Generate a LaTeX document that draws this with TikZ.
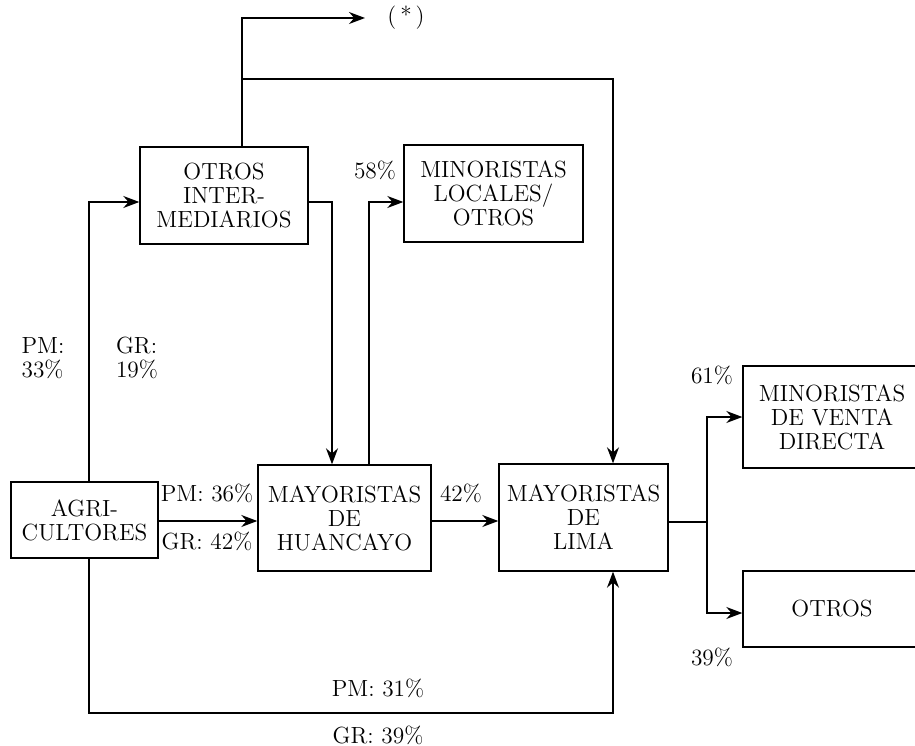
\documentclass[tikz,border=0pt]{standalone}
\usepackage{tikz}
\usetikzlibrary{arrows.meta}

\begin{document}
\begin{tikzpicture}[x = 0.02cm, y = -0.02cm,
  every node/.style = {font = \fontsize{13.3}{13.7}\selectfont},
  box/.style = {draw, line width = 0.8pt, align = center, inner sep = 0pt},
  arr/.style = {line width = 0.8pt, -{Stealth[length = 3.2mm, width = 2.4mm]}},
  flow/.style = {line width = 0.8pt}]
\useasboundingbox (0, 0) rectangle (915, 746);
\clip (0, 0) rectangle (915, 746);
% boxes
\node (agri) [box, minimum width = 2.94cm, minimum height = 1.52cm] at (84.5, 520) {AGRI-\\CULTORES};
\node (otros) [box, minimum width = 3.36cm, minimum height = 1.94cm] at (224, 195.5) {OTROS\\INTER-\\MEDIARIOS};
\node (minloc) [box, minimum width = 3.58cm, minimum height = 1.94cm] at (493.5, 193.5) {MINORISTAS\\LOCALES/\\OTROS};
\node (huan) [box, minimum width = 3.46cm, minimum height = 2.12cm] at (344.5, 518) {MAYORISTAS\\DE\\HUANCAYO};
\node (lima) [box, minimum width = 3.38cm, minimum height = 2.14cm] at (583.5, 517.5) {MAYORISTAS\\DE\\LIMA};
\node (minvd) [box, minimum width = 3.56cm, minimum height = 2.04cm] at (832, 417) {MINORISTAS\\DE VENTA\\DIRECTA};
\node (otrosr) [box, minimum width = 3.56cm, minimum height = 1.52cm] at (832, 609) {OTROS};
\node (star) at (406, 18) {(\,*\,)};
% junction points
\coordinate (rowtop) at (89, 202);
\coordinate (rowmid) at (0, 521);
\coordinate (starin) at (365, 18);
\coordinate (split) at (242, 79);
\coordinate (limain) at (613, 79);
\coordinate (huanin) at (332, 0);
\coordinate (huanout) at (369, 0);
\coordinate (bottom) at (89, 713);
\coordinate (fork) at (707, 522);
\coordinate (forkdown) at (707, 613);
% connectors
\draw [arr] (agri.north -| rowtop) |- (otros.west |- rowtop);
\draw [arr] (otros.north -| split) |- (starin);
\draw [arr] (split) -| (lima.north -| limain);
\draw [arr] (otros.east |- rowtop) -| (huan.north -| huanin);
\draw [arr] (huan.north -| huanout) |- (minloc.west |- rowtop);
\draw [arr] (agri.east |- rowmid) -- (huan.west |- rowmid);
\draw [arr] (huan.east |- rowmid) -- (lima.west |- rowmid);
\draw [arr] (agri.south -| bottom) |- (limain |- bottom) -- (lima.south -| limain);
\draw [flow] (lima.east |- fork) -- (fork);
\draw [arr] (fork) |- (minvd.west);
\draw [arr] (fork) |- (otrosr.west |- forkdown);
% labels
\node [align = left] at (43, 358) {PM:\\33\%};
\node [align = left] at (137, 358) {GR:\\19\%};
\node at (375, 170) {58\%};
\node at (207, 493) {PM: 36\%};
\node at (207, 541) {GR: 42\%};
\node at (461, 493) {42\%};
\node at (378, 688) {PM: 31\%};
\node at (378, 735) {GR: 39\%};
\node at (712, 375) {61\%};
\node at (712, 657) {39\%};
\end{tikzpicture}
\end{document}
